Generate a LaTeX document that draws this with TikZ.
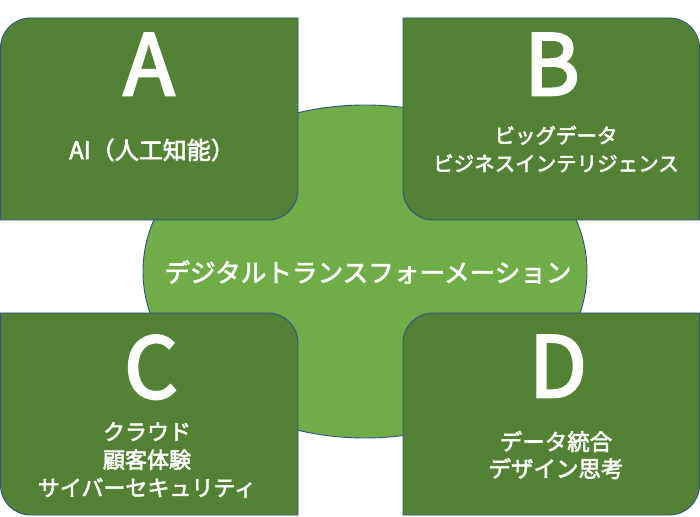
\documentclass[tikz,border=0pt]{standalone}
\usepackage{fontspec}
\setmainfont{Noto Sans CJK JP}
\newfontfamily\jp[FakeBold=2.5]{Noto Sans CJK JP}
\newfontfamily\jpletter[FakeBold=3]{Noto Sans CJK JP}
\definecolor{boxgreen}{HTML}{548235}
\definecolor{ellgreen}{HTML}{70AD47}
\definecolor{edgeblue}{HTML}{2F528F}
\begin{document}
\begin{tikzpicture}[x=1pt,y=1pt,
  panel/.style={fill=boxgreen,draw=edgeblue,line width=0.9pt},
  core/.style={fill=ellgreen,draw=edgeblue,line width=0.9pt},
  letter/.style={text=white,inner sep=0pt,anchor=base,font=\jpletter\fontsize{84}{84}\selectfont},
  label/.style={text=white,inner sep=0pt,align=center,anchor=center}]
\useasboundingbox (0,0) rectangle (700,516);
\fill[white] (0,0) rectangle (700,516);
% central ellipse
\draw[core] (365,244.5) ellipse [x radius=222, y radius=166.5];
% A: top-left and bottom-right rounded
\draw[panel] (0.5,296) -- (0.5,468) arc (180:90:30) -- (298,498) -- (298,326) arc (0:-90:30) -- cycle;
% B: top-right and bottom-left rounded
\draw[panel] (403,326) -- (403,498) -- (669.5,498) arc (90:0:30) -- (699.5,296) -- (433,296) arc (270:180:30) -- cycle;
% C: top-right and bottom-left rounded
\draw[panel] (0.5,31) -- (0.5,203) -- (268,203) arc (90:0:30) -- (298,1) -- (30.5,1) arc (270:180:30) -- cycle;
% D: top-left and bottom-right rounded
\draw[panel] (403,1) -- (403,173) arc (180:90:30) -- (699.5,203) -- (699.5,31) arc (0:-90:30) -- cycle;
% letters
\node[letter] (la) at (149,421) {A};
\node[letter] (lb) at (552,421) {B};
\node[letter] (lc) at (151,118) {C};
\node[letter] (ld) at (558,119) {D};
% labels
\node[label,font=\jp\fontsize{24}{28}\selectfont] (ta) at (152,366) {AI（人工知能）};
\node[label,font=\jp\fontsize{20.5}{28}\selectfont] (tb) at (556,367) {ビッグデータ\\ビジネスインテリジェンス};
\node[label,font=\jp\fontsize{22}{28}\selectfont] (tc) at (147,56) {クラウド\\顧客体験\\サイバーセキュリティ};
\node[label,font=\jp\fontsize{22.5}{27}\selectfont] (td) at (556,61) {データ統合\\デザイン思考};
\node[label,font=\jp\fontsize{25.6}{28}\selectfont] (center) at (368,244) {デジタルトランスフォーメーション};
\end{tikzpicture}
\end{document}
